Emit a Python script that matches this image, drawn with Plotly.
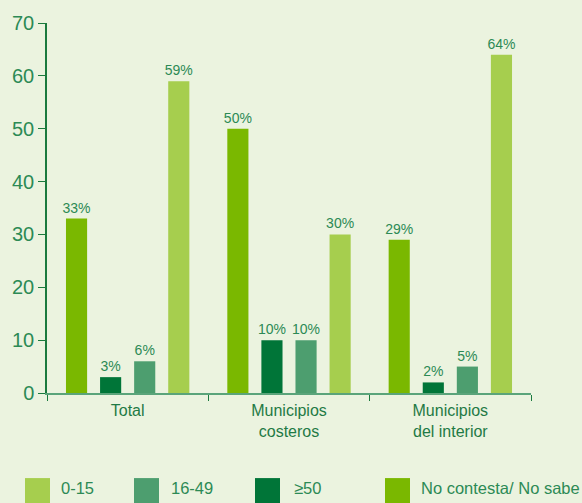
import plotly.graph_objects as go

categories = ["Total", "Municipios<br>costeros", "Municipios<br>del interior"]
series_names = ["No contesta/ No sabe", "≥50", "16-49", "0-15"]
no_contesta = [33, 50, 29]
mas_50 = [3, 10, 2]
de_16_49 = [6, 10, 5]
de_0_15 = [59, 30, 64]
y_ticks = [0, 10, 20, 30, 40, 50, 60, 70]

# legend order as printed under the chart
legend_order = ["0-15", "16-49", "≥50", "No contesta/ No sabe"]

colors = {
    "No contesta/ No sabe": "#7ab800",
    "≥50": "#007538",
    "16-49": "#4d9e6f",
    "0-15": "#a6ce4e",
}

FONT = "Liberation Sans, Arial, sans-serif"
TXT = "#2c8a55"

W, H = 582, 503
L, R, T, B = 47, 51, 19, 110
PW, PH = W - L - R, H - T - B

fig = go.Figure()
for name, vals in zip(series_names, [no_contesta, mas_50, de_16_49, de_0_15]):
    fig.add_trace(go.Bar(
        x=categories, y=vals, name=name,
        marker=dict(color=colors[name], line=dict(width=0)),
        text=[f"{v}%" for v in vals], textposition="outside",
        textfont=dict(family=FONT, size=14, color=TXT),
        cliponaxis=False, showlegend=False,
    ))

# hand-made legend with big square swatches (pixel spots converted to paper units)
swatch_x = [25, 134, 255, 385]
label_x = [61, 171, 294, 421]
shapes = []
annotations = []
for sx, tx, name in zip(swatch_x, label_x, legend_order):
    shapes.append(dict(type="rect", xref="paper", yref="paper",
                       x0=(sx - L) / PW, x1=(sx + 25 - L) / PW,
                       y0=(H - B - 506) / PH, y1=(H - B - 479) / PH,
                       fillcolor=colors[name], line=dict(width=0)))
    annotations.append(dict(xref="paper", yref="paper", x=(tx - 2 - L) / PW,
                            y=(H - B - 489) / PH, text=name, showarrow=False,
                            xanchor="left", yanchor="middle",
                            font=dict(family=FONT, size=16.5, color=TXT)))

fig.update_layout(
    width=W, height=H,
    margin=dict(l=L, r=R, t=T, b=B),
    paper_bgcolor="#ebf3df", plot_bgcolor="#ebf3df",
    barmode="group", bargap=0.155, bargroupgap=0.38,
    uniformtext=dict(minsize=14, mode="show"),
    shapes=shapes, annotations=annotations,
    showlegend=False,
)
fig.update_xaxes(
    showline=True, linecolor="#5aa47a", linewidth=2,
    ticks="outside", tickson="boundaries", ticklen=6, tickcolor="#1b7a3e",
    tickfont=dict(family=FONT, size=16, color="#1f7a45"),
    ticklabelstandoff=2,
    showgrid=False,
)
fig.update_yaxes(
    range=[0, 70], tickvals=y_ticks,
    showline=True, linecolor="#1b7a3e", linewidth=1.5,
    ticks="outside", ticklen=7, tickcolor="#1b7a3e",
    tickfont=dict(family=FONT, size=20, color=TXT),
    showgrid=False, zeroline=False,
)

fig.write_html("out.html", config={"displayModeBar": False},
               post_script="document.body.style.margin='0';")
